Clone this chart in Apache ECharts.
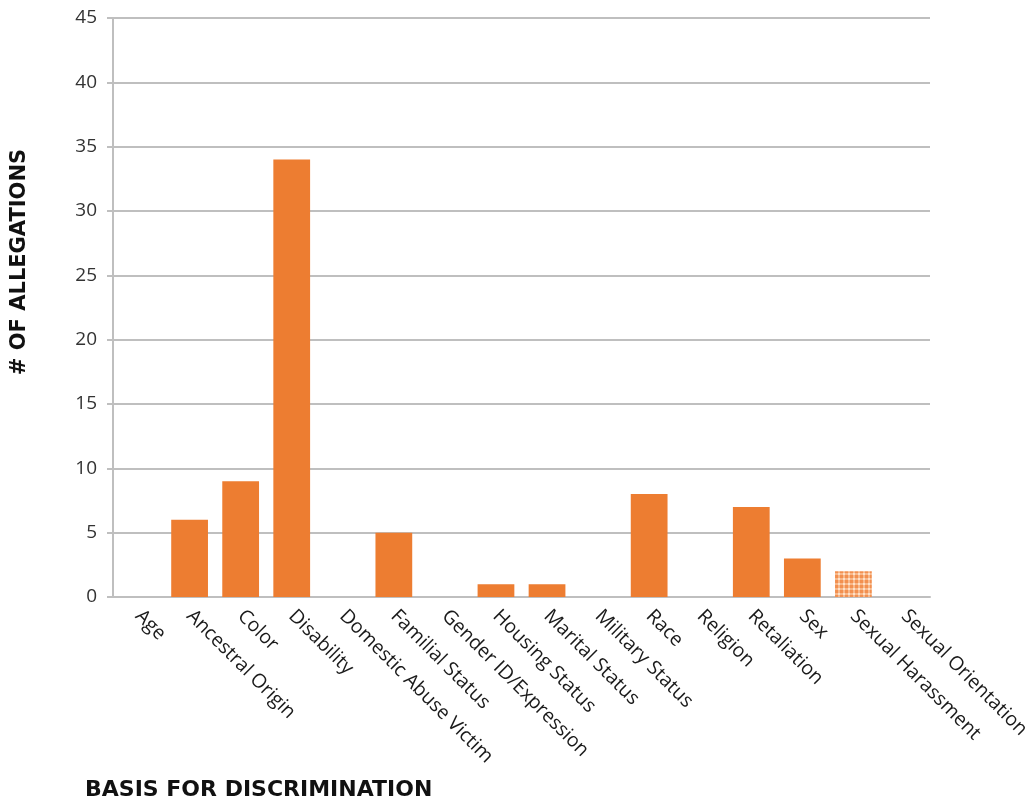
<!DOCTYPE html>
<html>
<head>
<meta charset="utf-8">
<script src="https://cdn.jsdelivr.net/npm/echarts@6/dist/echarts.min.js"></script>
<style>
  html, body { margin: 0; padding: 0; background: #fff; }
  #chart { width: 1034px; height: 804px; }
</style>
</head>
<body>
<div id="chart"></div>
<script>
const categories = [
  "Age", "Ancestral Origin", "Color", "Disability", "Domestic Abuse Victim",
  "Familial Status", "Gender ID/Expression", "Housing Status", "Marital Status",
  "Military Status", "Race", "Religion", "Retaliation", "Sex",
  "Sexual Harassment", "Sexual Orientation"
];
const allegations = [0, 6, 9, 34, 0, 5, 0, 1, 1, 0, 8, 0, 7, 3, 2, 0];
const patternedCategory = "Sexual Harassment";

// checker pattern for the highlighted bar
const patternCanvas = document.createElement("canvas");
patternCanvas.width = 5;
patternCanvas.height = 5;
const pctx = patternCanvas.getContext("2d");
pctx.fillStyle = "#fde0c8";
pctx.fillRect(0, 0, 5, 5);
pctx.fillStyle = "#f29050";
pctx.fillRect(0, 0, 3, 3);
pctx.fillStyle = "#f8b88a";
pctx.fillRect(3, 0, 2, 3);
pctx.fillRect(0, 3, 3, 2);

const barData = allegations.map((v, i) => {
  if (categories[i] === patternedCategory) {
    return { value: v, itemStyle: { color: { image: patternCanvas, repetition: "repeat" } } };
  }
  return v;
});

const chart = echarts.init(document.getElementById("chart"));
chart.setOption({
  animation: false,
  grid: { left: 113, right: 104, top: 18, bottom: 207 },
  xAxis: {
    type: "category",
    data: categories,
    axisLine: { lineStyle: { color: "#bfbfbf", width: 2 } },
    axisTick: { show: false },
    axisLabel: {
      rotate: -45,
      interval: 0,
      margin: 16,
      color: "#1a1a1a",
      fontSize: 19.5,
      fontFamily: "Open Sans"
    }
  },
  yAxis: {
    type: "value",
    min: 0,
    max: 45,
    interval: 5,
    axisLine: { show: true, lineStyle: { color: "#bfbfbf", width: 2 } },
    axisTick: { show: true, length: 6, lineStyle: { color: "#bfbfbf", width: 2 } },
    splitLine: { lineStyle: { color: "#bfbfbf", width: 2 } },
    axisLabel: {
      margin: 16,
      color: "#333",
      fontSize: 19,
      fontFamily: "Open Sans"
    }
  },
  graphic: [
    {
      type: "text",
      left: 85,
      top: 779,
      style: {
        text: "BASIS FOR DISCRIMINATION",
        font: "bold 22px 'DejaVu Sans'",
        fill: "#111"
      }
    },
    {
      type: "text",
      x: 20,
      y: 262,
      rotation: Math.PI / 2,
      style: {
        text: "# OF ALLEGATIONS",
        font: "bold 21px 'DejaVu Sans'",
        fill: "#111",
        align: "center",
        verticalAlign: "middle"
      }
    }
  ],
  series: [
    {
      type: "bar",
      data: barData,
      barWidth: "72%",
      itemStyle: { color: "#ed7d31" }
    }
  ]
});
</script>
</body>
</html>
